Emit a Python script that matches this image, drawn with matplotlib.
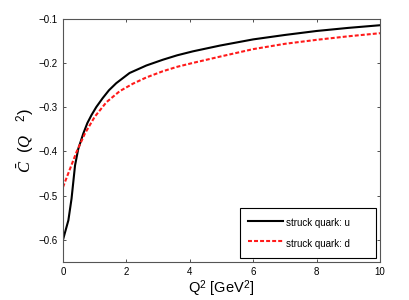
import matplotlib
matplotlib.use("Agg")
import matplotlib.pyplot as plt

plt.rcParams["font.family"] = ["Liberation Sans", "DejaVu Sans"]
plt.rcParams["mathtext.fontset"] = "custom"
plt.rcParams["mathtext.rm"] = "Liberation Sans"
plt.rcParams["mathtext.it"] = "Liberation Serif:italic"

# struck quark u (black, solid)
q2_u = [0, 0.17, 0.27, 0.38, 0.48, 0.64, 0.77, 0.9, 1.05, 1.25, 1.45, 1.68, 2.1, 2.63,
        3.15, 3.6, 4.1, 4.95, 6.0, 7.0, 8.0, 9.0, 10.0]
c_u = [-0.600, -0.556, -0.507, -0.432, -0.395, -0.360, -0.336, -0.318, -0.300, -0.280,
       -0.262, -0.246, -0.223, -0.206, -0.193, -0.183, -0.174, -0.161, -0.147, -0.137,
       -0.128, -0.121, -0.115]

# struck quark d (red, dashed)
q2_d = [0, 0.22, 0.43, 0.69, 1.0, 1.37, 1.79, 2.21, 2.63, 3.15, 3.6, 4.11, 4.95, 6.0,
        7.0, 8.0, 9.0, 10.0]
c_d = [-0.481, -0.440, -0.401, -0.360, -0.322, -0.289, -0.264, -0.247, -0.233, -0.219,
       -0.209, -0.200, -0.186, -0.169, -0.157, -0.148, -0.140, -0.133]

xticks = [0, 2, 4, 6, 8, 10]
yticks = [-0.6, -0.5, -0.4, -0.3, -0.2, -0.1]

fig = plt.figure(figsize=(4.09, 3.0), dpi=100)
ax = fig.add_axes([0.154, 0.127, 0.775, 0.811])

ax.plot(q2_u, c_u, color="black", lw=1.5, label="struck quark: u")
ax.plot(q2_d, c_d, color="#ff1a1a", lw=1.5, linestyle=(0, (1.9, 1.0)),
        label="struck quark: d")

ax.set_xlim(0, 10)
ax.set_ylim(-0.65, -0.1)
ax.set_xticks(xticks)
ax.set_yticks(yticks)
ax.set_xticklabels([str(t) for t in xticks])
ax.set_yticklabels([f"\u2212{abs(t):.1f}" for t in yticks])
ax.tick_params(direction="in", top=True, right=True, length=2.5, width=0.6,
               labelsize=7, colors="#333333", labelcolor="black")
for sp in ax.spines.values():
    sp.set_color("#555555")
    sp.set_linewidth(0.8)

ax.set_xlabel(r"Q$^2$ [GeV$^2$]", fontsize=10.5, labelpad=1)
ax.set_ylabel(r"$\bar{C}$  ($Q$   $^2$)", fontsize=12)
ax.yaxis.set_label_coords(-0.082, 0.5)

leg = ax.legend(loc="lower right", bbox_to_anchor=(0.56, 0.016, 0.427, 0.242),
                mode="expand", fontsize=7, handlelength=3.6, handleheight=1.9,
                handletextpad=0.34, labelspacing=0.67, borderaxespad=0,
                borderpad=0.75, fancybox=False, framealpha=1)
leg.get_frame().set_edgecolor("black")
leg.get_frame().set_linewidth(0.8)

fig.savefig("out.png", dpi=100)
